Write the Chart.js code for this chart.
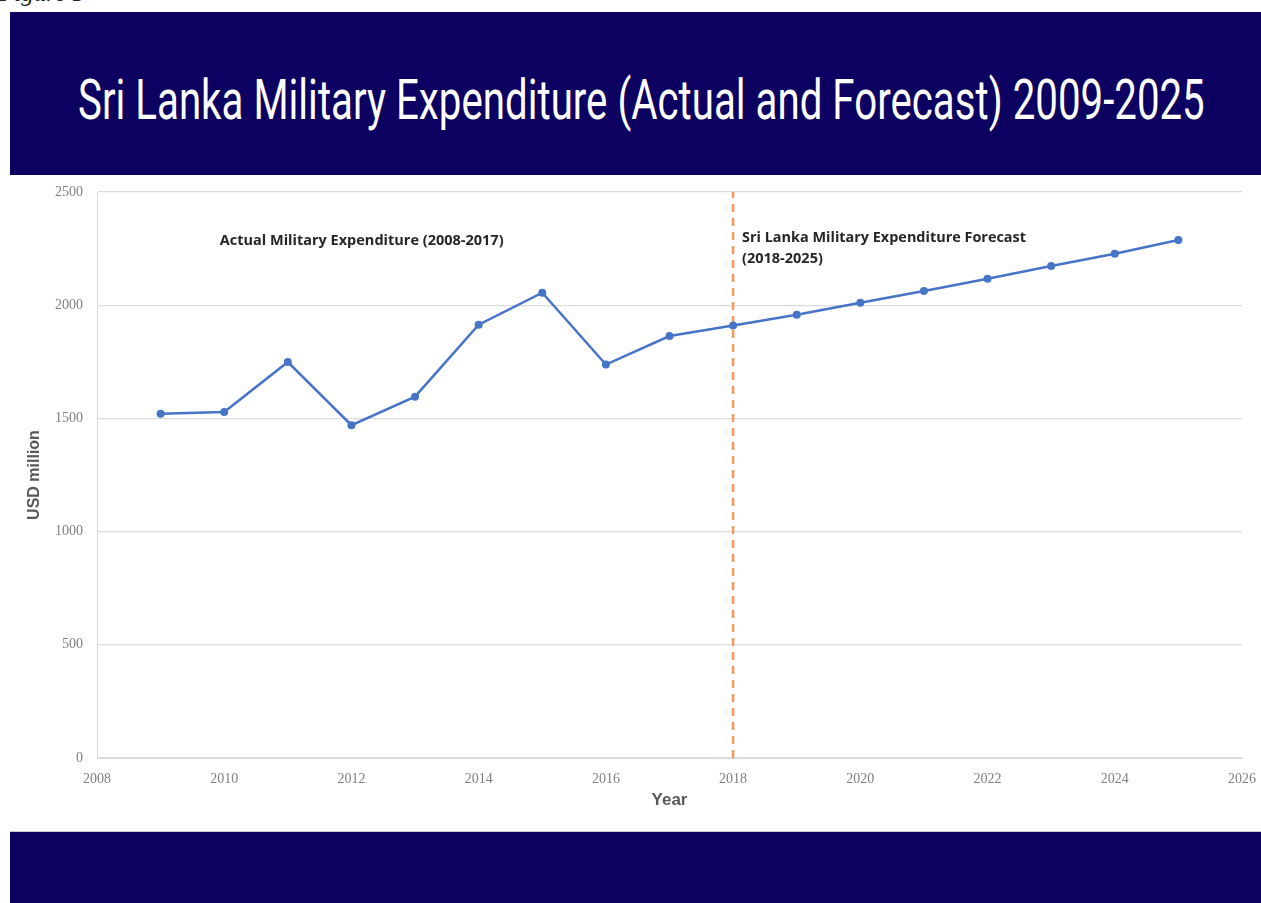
<!DOCTYPE html>
<html>
<head>
<meta charset="utf-8">
<title>Sri Lanka Military Expenditure</title>
<script src="https://cdn.jsdelivr.net/npm/chart.js@4.4.1/dist/chart.umd.min.js"></script>
<style>
  html, body { margin: 0; padding: 0; background: #fff; }
  body { width: 1261px; height: 903px; position: relative; overflow: hidden; }
  #figure { position: absolute; left: -1px; top: -21px; font: italic 25px "Liberation Serif", serif; color: #222; }
  #banner { position: absolute; left: 10px; top: 12px; width: 1251px; height: 163px; background: #0c0060; }
  #title {
    position: absolute; left: 68px; top: 61px; white-space: nowrap;
    font: 55px/55px "Liberation Sans Narrow", "Roboto", sans-serif; color: #fff;
    transform-origin: left top;
  }
  #chart-box { position: absolute; left: 10px; top: 175px; width: 1251px; height: 657px; }
  #footer { position: absolute; left: 10px; top: 831px; width: 1251px; height: 72px; background: #0c0060; border-top: 1px solid #c9c9d6; }
</style>
</head>
<body>
<div id="figure">Figure 5</div>
<div id="banner"><span id="title">Sri Lanka Military Expenditure (Actual and Forecast) 2009-2025</span></div>
<div id="chart-box"><canvas id="chart"></canvas></div>
<div id="footer"></div>

<script>
/* Values. */
const years = [2009, 2010, 2011, 2012, 2013, 2014, 2015, 2016, 2017,
  2018, 2019, 2020, 2021, 2022, 2023, 2024, 2025]
const expenditure = [1520, 1528, 1749, 1470, 1596, 1914, 2055, 1738, 1864,
  1910, 1958, 2011, 2063, 2117, 2173, 2227, 2288]

/* Year where the forecast starts (dashed line). */
const forecastStart = 2018

/* Axis ranges and tick steps. */
const xRange = [2008, 2026]
const xStep = 2
const yRange = [0, 2500]
const yStep = 500

const actualNote = ["Actual Military Expenditure (2008-2017)"]
const forecastNote = ["Sri Lanka Military Expenditure Forecast", "(2018-2025)"]

/* Stretch the title to the width it has in the picture. */
const title = document.getElementById("title")
title.style.transform = "scaleX(" + (1127 / title.offsetWidth) + ")"

/* Draw the two text notes inside the plot. */
const notesPlugin = {
  id: "notes",
  afterDatasetsDraw(chart) {
    const { ctx, scales: { x, y } } = chart
    ctx.save()
    ctx.font = "bold 14.5px 'Open Sans', sans-serif"
    ctx.fillStyle = "#262626"
    ctx.textBaseline = "middle"
    actualNote.forEach((line, i) => {
      ctx.fillText(line, x.getPixelForValue(2009.93), y.getPixelForValue(2284) + i * 21, 286)
    })
    forecastNote.forEach((line, i) => {
      const maxW = i == 0 ? 284 : 90
      ctx.fillText(line, x.getPixelForValue(2018.14), y.getPixelForValue(2296) + i * 21, maxW)
    })
    ctx.restore()
  }
}

/* Drop the automatic label overflow padding so the plot area sits where the layout padding says. */
const noOverflow = scale => {
  scale.paddingLeft = 0
  scale.paddingRight = 0
  scale.paddingTop = 0
  scale.paddingBottom = 0
}

const points = years.map((year, i) => ({ x: year, y: expenditure[i] }))

const ctx = document.getElementById("chart").getContext("2d")
const chart = new Chart(ctx, {
  type: "line",
  data: {
    datasets: [{
      data: points,
      borderColor: "#4674c6",
      backgroundColor: "#4674c6",
      borderWidth: 2.5,
      pointRadius: 4,
      pointBorderWidth: 0,
      pointBackgroundColor: "#4674c6",
      tension: 0,
      order: 0
    }, {
      data: [{ x: forecastStart, y: yRange[0] }, { x: forecastStart, y: yRange[1] }],
      borderColor: "#ee9a62",
      borderWidth: 2.5,
      borderDash: [8, 6],
      pointRadius: 0,
      order: 1
    }]
  },
  options: {
    responsive: true,
    maintainAspectRatio: false,
    animation: false,
    layout: {
      padding: { top: 17, right: 19, left: 0, bottom: 0 }
    },
    plugins: {
      legend: { display: false },
      tooltip: { enabled: false }
    },
    scales: {
      x: {
        type: "linear",
        min: xRange[0],
        max: xRange[1],
        afterFit: scale => { scale.height = 74; noOverflow(scale) },
        grid: { display: false },
        border: { display: true, color: "#d9d9d9", width: 1 },
        ticks: {
          stepSize: xStep,
          padding: 5,
          color: "#7f7f7f",
          font: { family: "'Liberation Serif', serif", size: 14 },
          callback: value => String(value)
        },
        title: {
          display: true,
          text: "Year",
          color: "#595959",
          font: { family: "'Liberation Sans', sans-serif", size: 17, weight: "bold" },
          padding: { top: 0, bottom: 21 }
        }
      },
      y: {
        min: yRange[0],
        max: yRange[1],
        afterFit: scale => { scale.width = 87; noOverflow(scale) },
        grid: { color: "#dcdcdc", lineWidth: 1.2, drawTicks: false },
        border: { display: true, color: "#d9d9d9", width: 1 },
        ticks: {
          stepSize: yStep,
          padding: 14,
          color: "#7f7f7f",
          font: { family: "'Liberation Serif', serif", size: 14 },
          callback: value => String(value)
        },
        title: {
          display: true,
          text: "USD million",
          color: "#595959",
          font: { family: "'Liberation Sans', sans-serif", size: 16, weight: "bold" },
          padding: { top: 15, bottom: 0 }
        }
      }
    }
  },
  plugins: [notesPlugin]
})
</script>
</body>
</html>
